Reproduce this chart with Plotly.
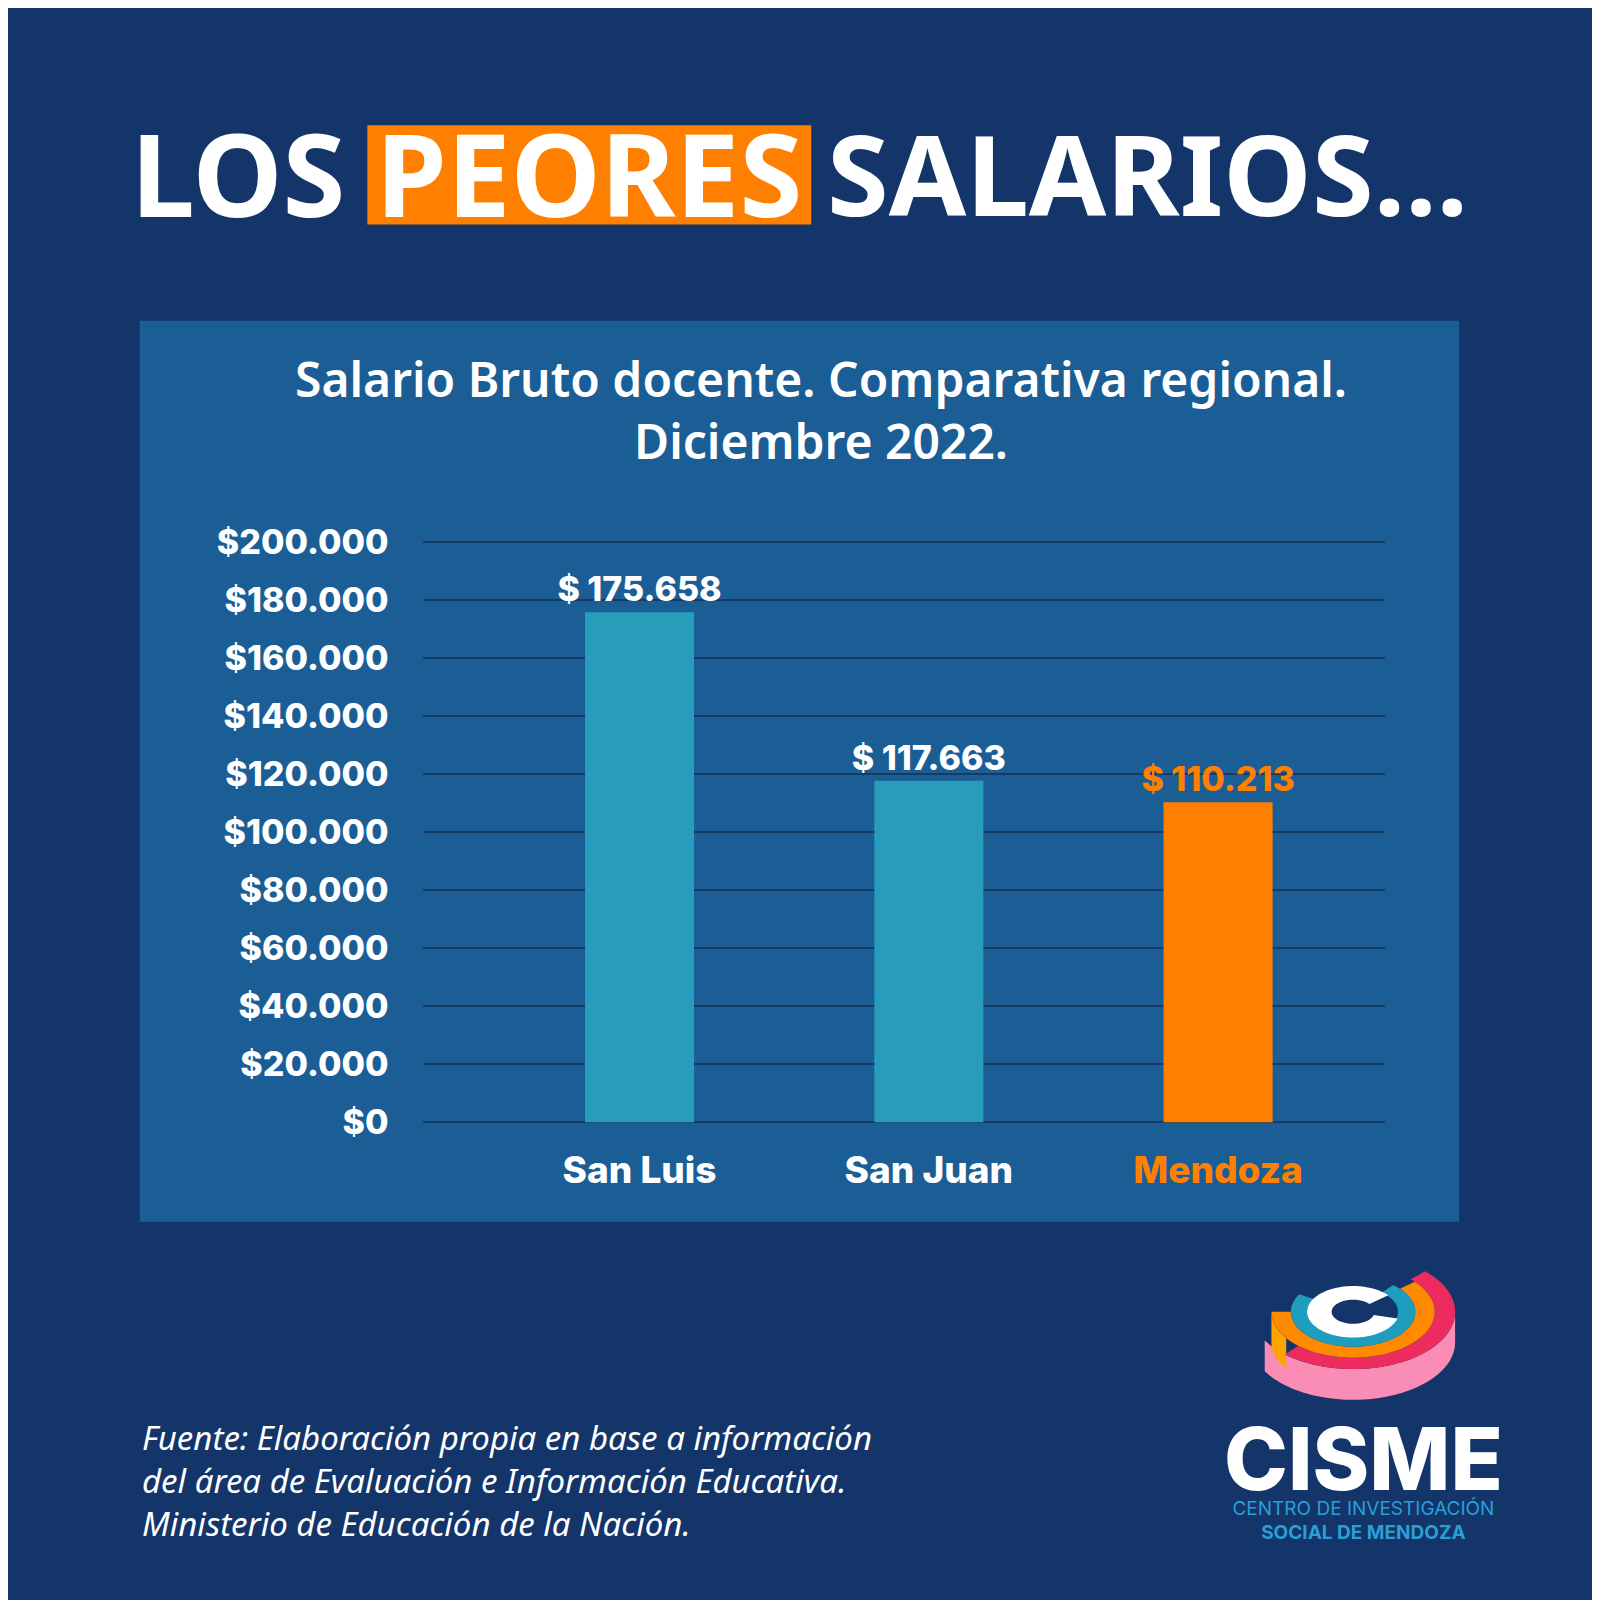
import numpy as np
import plotly.graph_objects as go

# datos
provincias = ["San Luis", "San Juan", "Mendoza"]
salarios = [175658, 117663, 110213]
colores_barra = ["#2A9CBB", "#2A9CBB", "#FF8000"]
colores_texto = ["#FFFFFF", "#FFFFFF", "#FF8000"]
ticks_y = [0, 20000, 40000, 60000, 80000, 100000, 120000, 140000, 160000, 180000, 200000]
etiquetas_y = ["$" + f"{v:,}".replace(",", ".") for v in ticks_y]
fuente = [
    "Fuente: Elaboración propia en base a información",
    "del área de Evaluación e Información Educativa.",
    "Ministerio de Educación de la Nación.",
]

W, H = 1600, 1600
BG = "#13356A"
PANEL = "#1B5E96"


# posiciones medidas sobre la imagen de referencia (ajuste empirico)
def px(x):
    return (x / 0.98 - 8) / W


def py(y):
    return 1 - ((y - 21.4) / 0.953 - 8) / H


def ring(cx, cy, r_in, r_out, t1, t2, k=0.56):
    # anillo eliptico del logo, angulos en grados
    t = np.radians(np.linspace(t1, t2, 60))
    pts = [(cx + r_out * np.cos(a), cy - r_out * k * np.sin(a)) for a in t]
    pts += [(cx + r_in * np.cos(a), cy - r_in * k * np.sin(a)) for a in t[::-1]]
    return "M " + " L ".join(f"{px(x):.5f},{py(y):.5f}" for x, y in pts) + " Z"


def band(cx, cy, r, t1, t2, depth, k=0.56):
    t = np.radians(np.linspace(t1, t2, 60))
    pts = [(cx + r * np.cos(a), cy - r * k * np.sin(a)) for a in t]
    pts += [(cx + r * np.cos(a), cy + depth - r * k * np.sin(a)) for a in t[::-1]]
    return "M " + " L ".join(f"{px(x):.5f},{py(y):.5f}" for x, y in pts) + " Z"


fig = go.Figure()
fig.add_trace(go.Bar(
    x=provincias,
    y=salarios,
    marker=dict(color=colores_barra, line=dict(width=0)),
    width=0.377,
    texttemplate="$ %{y:,}",
    textposition="outside",
    constraintext="none",
    textfont=dict(family="Inter", size=34, color=colores_texto, weight=800),
    cliponaxis=False,
    hoverinfo="skip",
))

cx, cy = 1326, 1284
shapes = [
    dict(type="rect", xref="paper", yref="paper", x0=px(137), x1=px(1430),
         y0=py(1196), y1=py(316), fillcolor=PANEL, line=dict(width=0), layer="below"),
    dict(type="rect", xref="paper", yref="paper", x0=px(360), x1=px(795),
         y0=py(222), y1=py(125), fillcolor="#FF8000", line=dict(width=0), layer="below"),
    # logo
    dict(type="path", xref="paper", yref="paper", path=band(cx, cy, 100, -150, 0, 30),
         fillcolor="#F98DB5", line=dict(width=0)),
    dict(type="path", xref="paper", yref="paper", path=band(cx, cy, 80, 180, 215, 30),
         fillcolor="#FFA400", line=dict(width=0)),
    dict(type="path", xref="paper", yref="paper", path=ring(cx, cy, 80, 100, -132, 45),
         fillcolor="#EC2B5F", line=dict(width=0)),
    dict(type="path", xref="paper", yref="paper", path=ring(cx, cy, 61, 80, -180, 41),
         fillcolor="#FF8A00", line=dict(width=0)),
    dict(type="path", xref="paper", yref="paper", path=ring(cx, cy, 44, 61, -210, 50),
         fillcolor="#1E9DBF", line=dict(width=0)),
    dict(type="path", xref="paper", yref="paper", path=ring(cx, cy, 21, 45, 40, 345),
         fillcolor="#FFFFFF", line=dict(width=0)),
]

annotations = [
    dict(text="LOS", x=px(233), y=py(171), size=114),
    dict(text="PEORES", x=px(577), y=py(171), size=114),
    dict(text="SALARIOS...", x=px(1125), y=py(171), size=112),
]
for a in annotations:
    a.update(xref="paper", yref="paper", showarrow=False, xanchor="center", yanchor="middle",
             font=dict(family="Noto Sans", size=a.pop("size"), color="white", weight=700))

annotations += [
    dict(text="Salario Bruto docente. Comparativa regional.<br>Diciembre 2022.",
         x=px(805), y=py(403), xref="paper", yref="paper", showarrow=False,
         xanchor="center", yanchor="middle",
         font=dict(family="Noto Sans", size=48, color="white", weight=600)),
    dict(text="<i>" + "<br>".join(fuente) + "</i>",
         x=px(137), y=py(1449), xref="paper", yref="paper", showarrow=False,
         xanchor="left", yanchor="middle", align="left",
         font=dict(family="Noto Sans", size=33, color="white")),
    dict(text="<span style='font-size:86px;font-weight:800;fill:#FFFFFF'>CISME</span><br>"
              "CENTRO DE INVESTIGACIÓN<br><b>SOCIAL DE MENDOZA</b>",
         x=px(1336), y=py(1444), xref="paper", yref="paper",
         showarrow=False, xanchor="center", yanchor="middle",
         font=dict(family="Inter", size=19, color="#2A9FD6")),
]

fig.update_layout(
    width=W, height=H,
    margin=dict(l=0, r=0, t=0, b=0),
    paper_bgcolor=BG,
    plot_bgcolor=PANEL,
    separators=",.",
    showlegend=False,
    shapes=shapes,
    annotations=annotations,
)
fig.update_xaxes(
    domain=[px(415), px(1357)],
    range=[-0.747, 2.576],
    showgrid=False, zeroline=False, showline=False,
    ticks="", ticklabelstandoff=23,
    tickvals=provincias,
    ticktext=["San Luis", "San Juan", "<span style='color:#FF8000'>Mendoza</span>"],
    tickfont=dict(family="Inter", size=37, color="white", weight=800),
)
fig.update_yaxes(
    domain=[py(1099), py(530)],
    range=[0, 200600],
    tickvals=ticks_y,
    ticktext=etiquetas_y,
    showgrid=True, gridcolor="#173A60", gridwidth=2,
    zeroline=True, zerolinecolor="#173A60", zerolinewidth=2,
    showline=False, ticks="", ticklabelstandoff=34,
    tickfont=dict(family="Inter", size=34, color="white", weight=800),
)

fig.write_html("out.html")
